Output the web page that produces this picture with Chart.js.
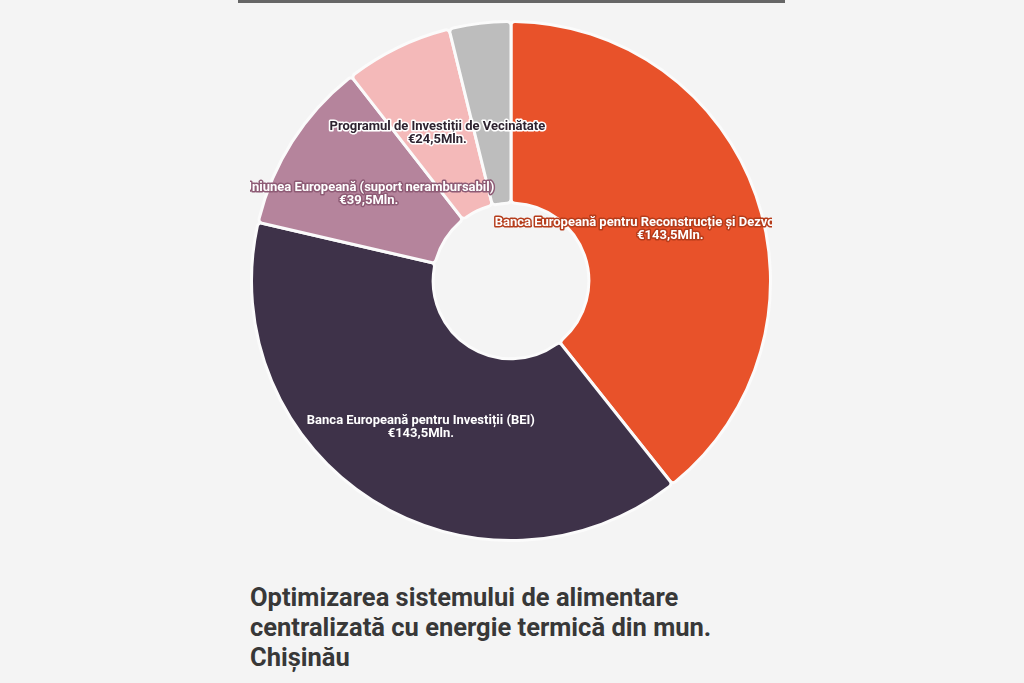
<!DOCTYPE html>
<html>
<head>
<meta charset="utf-8">
<script src="https://cdn.jsdelivr.net/npm/chart.js@4"></script>
<style>
    html, body { margin: 0; padding: 0; }
    body { width: 1024px; height: 683px; background: #f4f4f4; position: relative; overflow: hidden; }
    #top-rule { position: absolute; left: 238px; top: 0; width: 547px; height: 3px; background: #666666; }
    #chart-box { position: absolute; left: 250px; top: 20px; width: 522px; height: 522px; }
    #title {
        position: absolute; left: 250px; top: 582px; width: 560px;
        font-family: Roboto, sans-serif; font-weight: 700; font-size: 25.5px; line-height: 30px;
        color: #383838;
    }
</style>
</head>
<body>
<div id="top-rule"></div>
<div id="chart-box"><canvas id="chart"></canvas></div>
<div id="title">Optimizarea sistemului de alimentare<br>centralizată cu energie termică din mun.<br>Chișinău</div>
<script>
const sources = [
    'Banca Europeană pentru Reconstrucție și Dezvoltare (BERD)',
    'Banca Europeană pentru Investiții (BEI)',
    'Uniunea Europeană (suport nerambursabil)',
    'Programul de Investiții de Vecinătate',
    'Alte surse'
]
const amounts = [143.5, 143.5, 39.5, 24.5, 14]
const amountLabels = ['€143,5Mln.', '€143,5Mln.', '€39,5Mln.', '€24,5Mln.', '']
const sliceColors = ['#e8522a', '#3e3249', '#b5849c', '#f4b9b9', '#bdbdbd']
const labelFill   = ['#ffffff', '#ffffff', '#ffffff', '#2e2330', '#ffffff']
const labelStroke = ['#b53c1b', '#3e3249', '#8e5b75', '#ffffff', '#bdbdbd']

// small stand-in for datalabels: two centered lines on each arc
const sliceLabels = {
    id: 'sliceLabels',
    afterDatasetsDraw(chart) {
        const ctx = chart.ctx;
        const meta = chart.getDatasetMeta(0);
        ctx.save();
        ctx.font = 'bold 13px Roboto, sans-serif';
        ctx.textAlign = 'center';
        ctx.textBaseline = 'middle';
        ctx.lineJoin = 'round';
        ctx.lineWidth = 3;
        meta.data.forEach((arc, i) => {
            if (!amountLabels[i]) return;
            const pos = arc.tooltipPosition();
            const lines = [sources[i], amountLabels[i]];
            lines.forEach((text, k) => {
                const y = pos.y + 4 + (k - 0.5) * 13;
                ctx.strokeStyle = labelStroke[i];
                ctx.strokeText(text, pos.x, y);
                ctx.fillStyle = labelFill[i];
                ctx.fillText(text, pos.x, y);
            });
        });
        ctx.restore();
    }
}

new Chart(document.getElementById('chart'), {
    type: 'doughnut',
    data: {
        labels: sources,
        datasets: [{
            data: amounts,
            backgroundColor: sliceColors,
            borderColor: '#fbfbfb',
            borderWidth: 3,
            borderRadius: 4,
        }]
    },
    options: {
        responsive: true,
        maintainAspectRatio: false,
        animation: false,
        cutout: '30%',
        layout: { padding: 0 },
        plugins: {
            legend: { display: false },
            tooltip: { enabled: false },
        }
    },
    plugins: [sliceLabels]
});
</script>
</body>
</html>
